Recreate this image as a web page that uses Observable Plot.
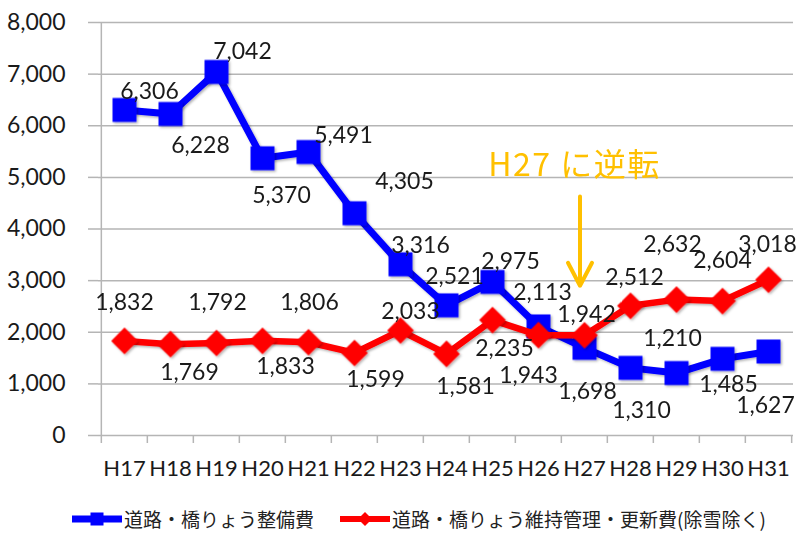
<!DOCTYPE html>
<html>
<head>
<meta charset="utf-8">
<script src="https://cdn.jsdelivr.net/npm/d3@7"></script>
<script src="https://cdn.jsdelivr.net/npm/@observablehq/plot@0.6"></script>
<style>
  html, body { margin: 0; padding: 0; background: #fff; }
  #wrap { position: relative; width: 801px; height: 533px; overflow: hidden; }
  .leg { position: absolute; top: 508px; height: 22px; display: flex; align-items: center;
         font-family: "Noto Sans CJK JP", sans-serif; font-size: 19px; line-height: 22px; color: #222; white-space: nowrap; }
  .leg span { line-height: 22px; }
  .leg svg { margin-right: 2px; }
</style>
</head>
<body>
<div id="wrap"></div>
<script>
// ---- data ----
const categories = ["H17","H18","H19","H20","H21","H22","H23","H24","H25","H26","H27","H28","H29","H30","H31"];
const seibiValues = [6306, 6228, 7042, 5370, 5491, 4305, 3316, 2521, 2975, 2113, 1698, 1310, 1210, 1485, 1627];
const ijiValues   = [1832, 1769, 1792, 1833, 1806, 1599, 2033, 1581, 2235, 1943, 1942, 2512, 2632, 2604, 3018];
const yTicks = [0, 1000, 2000, 3000, 4000, 5000, 6000, 7000, 8000];
const seriesNames = ["道路・橋りょう整備費", "道路・橋りょう維持管理・更新費(除雪除く)"];
const annotationText = "H27 に逆転";
const annotationCategory = "H27";
const annotationTextValue = 5230;
const annotationArrowFrom = 4630;
const annotationArrowTo = 2900;

// ---- label placement (layout, pixels) ----
const seibiLabelOffsets = [[25,-18],[30,32],[26,-20],[19,37],[35,-16],[50,-32],[20,-19],[8,-29],[18,-20],[4,-34],[3,44],[11,43],[-4,-34],[6,26],[-3,54]];
const ijiLabelOffsets   = [[0,-38],[19,28],[1,-40],[23,26],[1,-40],[21,27],[10,-19],[19,33],[12,29],[-10,40],[2,-21],[4,-28],[-4,-55],[0,-40],[-1,-35]];

// ---- styles ----
const BLUE = "#0000FF", RED = "#FF0000", ORANGE = "#FFC000", GRID = "#b5b5b5", TEXT = "#1a1a1a";
const W = 801, H = 505, ML = 98, MR = 8, MT = 22, MB = 70;
const bw = (W - ML - MR) / categories.length;
const fmt = d3.format(",");
const numFont = "Lato, 'Open Sans', sans-serif";

const seibi = categories.map((c, i) => ({c, v: seibiValues[i]}));
const iji = categories.map((c, i) => ({c, v: ijiValues[i]}));

const labelMarks = (rows, offsets) => rows.map((d, i) =>
  Plot.text([d], {x: "c", y: "v", text: r => fmt(r.v), dx: offsets[i][0], dy: offsets[i][1],
    fontSize: 23, fontFamily: numFont, fill: TEXT, textAnchor: "middle", lineAnchor: "middle"}));

const plot = Plot.plot({
  width: W, height: H,
  marginLeft: ML, marginRight: MR, marginTop: MT, marginBottom: MB,
  x: {type: "band", domain: categories, padding: 0, label: null},
  y: {domain: [0, 8000], label: null},
  style: {fontFamily: numFont, background: "#fff"},
  marks: [
    Plot.gridY(yTicks, {stroke: GRID, strokeOpacity: 1, strokeWidth: 1.5}),
    Plot.axisY({ticks: yTicks, tickFormat: fmt, tickSize: 10, tickPadding: 23, fontSize: 23,
      fontFamily: numFont, stroke: GRID, strokeWidth: 1.5, fill: TEXT, label: null}),
    Plot.axisX({tickSize: 0, tickPadding: 25, fontSize: 22, fontFamily: numFont, fill: TEXT, label: null}),
    // vertical axis line (left edge of first band)
    Plot.ruleX([categories[0]], {x: d => d, dx: -bw / 2, insetBottom: -8, stroke: GRID, strokeWidth: 1.5}),
    // band boundary ticks
    Plot.ruleX(categories.slice(1), {x: d => d, dx: -bw / 2, insetTop: H - MT - MB, insetBottom: -8, stroke: GRID, strokeWidth: 1.5}),
    Plot.ruleX([categories[categories.length - 1]], {x: d => d, dx: bw / 2, insetTop: H - MT - MB, insetBottom: -8, stroke: GRID, strokeWidth: 1.5}),
    // series 1
    Plot.line(seibi, {x: "c", y: "v", stroke: BLUE, strokeWidth: 7, strokeLinejoin: "round"}),
    Plot.dot(seibi, {x: "c", y: "v", symbol: "square", r: 13.5, fill: BLUE, stroke: "none"}),
    // series 2
    Plot.line(iji, {x: "c", y: "v", stroke: RED, strokeWidth: 6.5, strokeLinejoin: "round"}),
    Plot.dot(iji, {x: "c", y: "v", symbol: "diamond2", r: 12, fill: RED, stroke: "none"}),
    // annotation
    Plot.text([{c: annotationCategory, v: annotationTextValue}], {x: "c", y: "v", text: () => annotationText, dx: -10,
      fontSize: 32, fontFamily: "'Noto Sans CJK JP', sans-serif", fill: ORANGE, textAnchor: "middle", lineAnchor: "middle"}),
    Plot.arrow([{c: annotationCategory, a: annotationArrowFrom, b: annotationArrowTo}], {x1: "c", x2: "c", y1: "a", y2: "b",
      dx: -4.5, stroke: ORANGE, strokeWidth: 4, headLength: 9.75, headAngle: 55}),
    // value labels
    ...labelMarks(seibi, seibiLabelOffsets),
    ...labelMarks(iji, ijiLabelOffsets)
  ]
});

const wrap = document.getElementById("wrap");
wrap.appendChild(plot);

// subtle drop shadow like the original
const svg = d3.select(plot);
const defs = svg.insert("defs", ":first-child");
defs.append("filter").attr("id", "shd").attr("x", "-20%").attr("y", "-20%").attr("width", "140%").attr("height", "140%")
  .append("feDropShadow").attr("dx", 1.5).attr("dy", 1.5).attr("stdDeviation", 1.2)
  .attr("flood-color", "#000").attr("flood-opacity", 0.3);
svg.selectAll('g[aria-label="line"], g[aria-label="dot"]').attr("filter", "url(#shd)");
svg.selectAll("text").filter(function() { return this.textContent === annotationText; })
  .attr("letter-spacing", "1.5px");

// legend
function legendItem(left, color, shape, label) {
  const div = document.createElement("div");
  div.className = "leg";
  div.style.left = left + "px";
  const s = d3.create("svg").attr("width", 50).attr("height", 20);
  s.append("line").attr("x1", 0).attr("x2", 50).attr("y1", 10).attr("y2", 10)
    .attr("stroke", color).attr("stroke-width", shape === "square" ? 7 : 6);
  if (shape === "square") s.append("rect").attr("x", 18.5).attr("y", 3.5).attr("width", 13).attr("height", 13).attr("fill", color);
  else s.append("path").attr("d", "M25,3L32,10L25,17L18,10Z").attr("fill", color);
  div.appendChild(s.node());
  const sp = document.createElement("span");
  sp.textContent = label;
  div.appendChild(sp);
  wrap.appendChild(div);
}
legendItem(72, BLUE, "square", seriesNames[0]);
legendItem(340, RED, "diamond", seriesNames[1]);
</script>
</body>
</html>
